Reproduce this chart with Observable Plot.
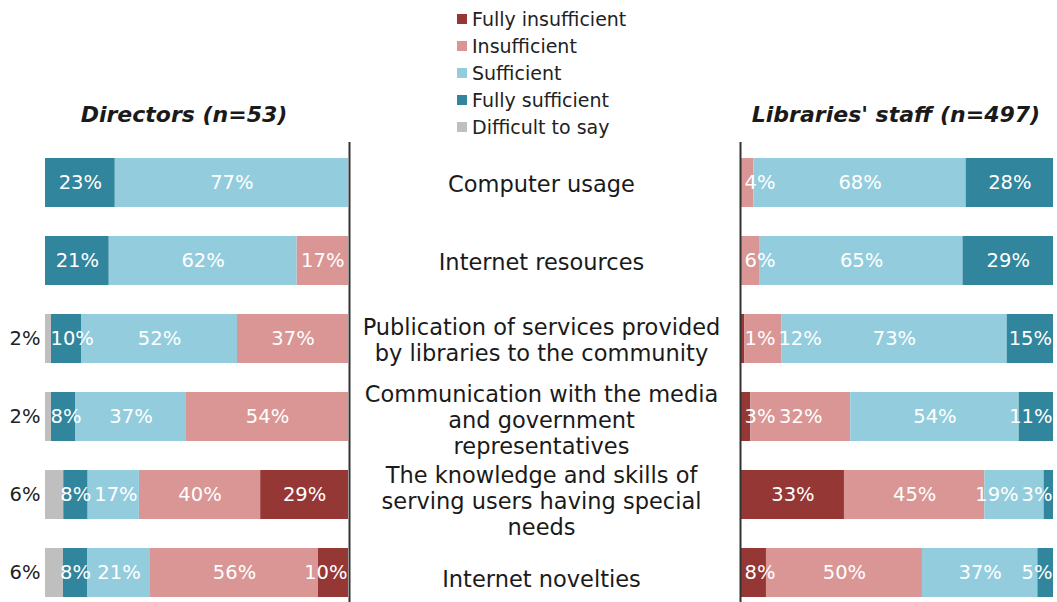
<!DOCTYPE html>
<html><head><meta charset="utf-8">
<script src="https://cdn.jsdelivr.net/npm/d3@7"></script>
<script src="https://cdn.jsdelivr.net/npm/@observablehq/plot@0.6"></script>
<style>
body{margin:0;background:#fff;font-family:"DejaVu Sans",Verdana,sans-serif;}
#wrap{position:relative;width:1057px;height:602px;overflow:hidden;background:#fff;}
.panel{position:absolute;top:0;}
.title{position:absolute;font-weight:bold;font-style:italic;font-size:22px;color:#1a1a1a;white-space:nowrap;transform:translate(-50%,-50%);}
#legend{position:absolute;left:457px;top:6px;font-size:19px;color:#222;}
.li{height:26.8px;display:flex;align-items:center;white-space:nowrap;}
.sw{width:10px;height:10px;margin-right:5px;flex:none;}
</style></head><body>
<div id="wrap"></div>
<script>
const categories = [
  "Computer usage",
  "Internet resources",
  "Publication of services provided by libraries to the community",
  "Communication with the media and government representatives",
  "The knowledge and skills of serving users having special needs",
  "Internet novelties"
];
const categoryLabels = [
  "Computer usage",
  "Internet resources",
  "Publication of services provided\nby libraries to the community",
  "Communication with the media\nand government\nrepresentatives",
  "The knowledge and skills of\nserving users having special\nneeds",
  "Internet novelties"
];
const series = ["Fully insufficient", "Insufficient", "Sufficient", "Fully sufficient", "Difficult to say"];
const seriesColors = ["#953735", "#D99694", "#93CDDD", "#31859C", "#BFBFBF"];

// Directors (n=53)
const dirFullyInsufficient = [0, 0, 0, 0, 29, 10];
const dirInsufficient      = [0, 17, 37, 54, 40, 56];
const dirSufficient        = [77, 62, 52, 37, 17, 21];
const dirFullySufficient   = [23, 21, 10, 8, 8, 8];
const dirDifficult         = [0, 0, 2, 2, 6, 6];

// Libraries' staff (n=497)
const staffFullyInsufficient = [0, 0, 1, 3, 33, 8];
const staffInsufficient      = [4, 6, 12, 32, 45, 50];
const staffSufficient        = [68, 65, 73, 54, 19, 37];
const staffFullySufficient   = [28, 29, 15, 11, 3, 5];
const staffDifficult         = [0, 0, 0, 0, 0, 0];

const panelTitles = ["Directors (n=53)", "Libraries' staff (n=497)"];

function toRows(arrays) {
  const rows = [];
  arrays.forEach((arr, si) => arr.forEach((v, ci) => {
    if (v > 0) rows.push({cat: categories[ci], series: series[si], value: v});
  }));
  return rows;
}
const dirData = toRows([dirFullyInsufficient, dirInsufficient, dirSufficient, dirFullySufficient, dirDifficult]);
const staffData = toRows([staffFullyInsufficient, staffInsufficient, staffSufficient, staffFullySufficient, staffDifficult]);

const FONT = '"DejaVu Sans", Verdana, sans-serif';
const VALUE_FS = 19.5;
const yScale = {domain: categories, range: [144, 612], paddingInner: 0.37, paddingOuter: 0.185, axis: null};
const colorScale = {domain: series, range: seriesColors};
const baseStyle = {background: "transparent", fontFamily: FONT, overflow: "visible"};
const stackOpts = {x: "value", y: "cat", z: "series", order: series, offset: "normalize"};

// estimated label width for "NN%" in DejaVu Sans
function labelWidth(t, fs) {
  let w = 0;
  for (const ch of String(t)) w += ch === "%" ? 0.95 : 0.636;
  return w * fs;
}
// initializer: keep labels within the bar and push overlapping ones apart (as the source chart does)
function labelLayout(lo, hi, fs, gap = 3) {
  return (data, facets, channels, scales) => {
    const X = channels.x.value, Y = channels.y.value, T = channels.text.value;
    const NX = Array.from(X, v => scales.x(v));
    const idx = d3.range(X.length).filter(i => T[i] != null && T[i] !== "");
    const rows = d3.group(idx, i => Y[i]);
    for (const list of rows.values()) {
      const items = list.map(i => ({i, w: labelWidth(T[i], fs), c: NX[i]})).sort((a, b) => a.c - b.c);
      let left = lo;
      for (const it of items) { it.s = Math.max(it.c - it.w / 2, left); left = it.s + it.w + gap; }
      let right = hi;
      for (let k = items.length - 1; k >= 0; k--) {
        const it = items[k];
        if (it.s + it.w > right) it.s = right - it.w;
        right = it.s - gap;
      }
      for (const it of items) NX[it.i] = it.s + it.w / 2;
    }
    return {data, facets, channels: {x: {value: NX}}};
  };
}
function withInit(opts, fn) {
  return Plot.initializer ? Plot.initializer(opts, fn) : {...opts, initializer: fn};
}

function panel({data, width, marginLeft, marginRight, reverse, ruleDx, lo, hi}) {
  return Plot.plot({
    width, height: 602,
    marginLeft, marginRight, marginTop: 142, marginBottom: 0,
    x: {domain: [0, 1], reverse, axis: null},
    y: yScale,
    color: colorScale,
    style: baseStyle,
    marks: [
      Plot.barX(data, Plot.stackX({...stackOpts, fill: "series"})),
      Plot.text(data, withInit(Plot.stackX({...stackOpts,
        text: d => d.series === series[4] ? null : d.value + "%",
        fill: "white", fontSize: VALUE_FS}), labelLayout(lo, hi, VALUE_FS))),
      Plot.text(data, Plot.stackX2({...stackOpts,
        text: d => d.series === series[4] ? d.value + "%" : null,
        textAnchor: "end", dx: -5, fill: "#222", fontSize: VALUE_FS})),
      Plot.ruleX([0], {stroke: "#333", strokeWidth: 2, dx: ruleDx})
    ]
  });
}

const wrap = document.getElementById("wrap");

const left = panel({data: dirData, width: 355, marginLeft: 45, marginRight: 7, reverse: true, ruleDx: 1, lo: 50, hi: 347});
left.classList.add("panel"); left.style.left = "0px";
wrap.appendChild(left);

const right = panel({data: staffData, width: 322, marginLeft: 6, marginRight: 4, reverse: false, ruleDx: -1, lo: 9, hi: 317});
right.classList.add("panel"); right.style.left = "735px";
wrap.appendChild(right);

const catText = (dy, keep) => Plot.text(categories, {
  filter: (d) => keep(categories.indexOf(d)),
  y: d => d, text: d => categoryLabels[categories.indexOf(d)], frameAnchor: "middle",
  fontSize: 22.5, lineHeight: 1.16, fill: "#1a1a1a", dy
});
const center = Plot.plot({
  width: 380, height: 602,
  marginLeft: 0, marginRight: 0, marginTop: 142, marginBottom: 0,
  y: yScale,
  style: baseStyle,
  marks: [
    catText(0, i => i < 3),
    catText(2, i => i === 3),
    catText(5, i => i > 3)
  ]
});
center.classList.add("panel"); center.style.left = "351px";
wrap.appendChild(center);

// Titles
[[panelTitles[0], 184], [panelTitles[1], 896]].forEach(([t, x]) => {
  const d = document.createElement("div");
  d.className = "title"; d.textContent = t;
  d.style.left = x + "px"; d.style.top = "114px";
  wrap.appendChild(d);
});

// Legend
const leg = document.createElement("div");
leg.id = "legend";
series.forEach((s, i) => {
  const li = document.createElement("div"); li.className = "li";
  const sw = document.createElement("span"); sw.className = "sw"; sw.style.background = seriesColors[i];
  const tx = document.createElement("span"); tx.textContent = s;
  li.appendChild(sw); li.appendChild(tx); leg.appendChild(li);
});
wrap.appendChild(leg);
</script>
</body></html>
